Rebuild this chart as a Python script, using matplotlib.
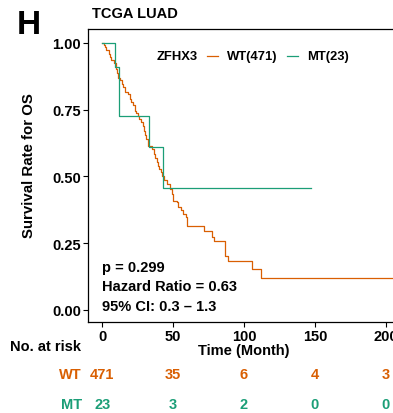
import matplotlib
matplotlib.use("Agg")
import matplotlib.pyplot as plt
from matplotlib.lines import Line2D
import matplotlib.transforms as mtransforms

plt.rcParams['font.family'] = ['Liberation Sans', 'DejaVu Sans']
plt.rcParams['font.weight'] = 'bold'

WT_COL = '#D95F02'
MT_COL = '#1B9E77'

# Kaplan-Meier steps
wt_t = [0, 1, 2, 3, 4.5, 5.3, 6, 8, 9.6, 10.3, 11, 12.7, 14, 15, 16.2, 18.5, 19.7,
        20.5, 21.4, 23.2, 24, 25, 26, 27.5, 29, 29.5, 30.2, 31, 32.6, 35, 36.6, 37.5,
        38.5, 39.5, 40.4, 41.2, 42, 43.7, 46, 47.9, 49, 49.7, 52.6, 53.7, 55.4, 57.3,
        59.2, 59.6, 72, 77.7, 79, 86.6, 88.9, 105.3, 112, 215]
wt_s = [1.0, 0.993, 0.985, 0.975, 0.96, 0.948, 0.935, 0.925, 0.904, 0.888, 0.87, 0.86,
        0.848, 0.835, 0.816, 0.81, 0.79, 0.778, 0.766, 0.747, 0.737, 0.728, 0.715, 0.704,
        0.688, 0.672, 0.656, 0.64, 0.613, 0.603, 0.584, 0.568, 0.553, 0.54, 0.528, 0.515,
        0.503, 0.485, 0.472, 0.453, 0.435, 0.41, 0.404, 0.385, 0.373, 0.36, 0.35, 0.316,
        0.295, 0.273, 0.257, 0.204, 0.183, 0.152, 0.12, 0.12]
mt_t = [0, 8.7, 11.8, 33, 42.7, 147]
mt_s = [1.0, 0.91, 0.728, 0.609, 0.456, 0.456]

risk_times = [0, 50, 100, 150, 200]
wt_risk = [471, 35, 6, 4, 3]
mt_risk = [23, 3, 2, 0, 0]

W, H = 393, 414
FS = 10.5
fig = plt.figure(figsize=(W / 100, H / 100), dpi=100)
ax = fig.add_axes([88 / W, 1 - 323 / H, 312 / W, 293 / H])

ax.step(wt_t, wt_s, where='post', color=WT_COL, lw=0.9)
ax.step(mt_t, mt_s, where='post', color=MT_COL, lw=0.9)

ax.set_xlim(-10, 210)
ax.set_ylim(-0.045, 1.0524)
ax.set_xticks(risk_times)
ax.set_yticks([0, 0.25, 0.5, 0.75, 1.0])
ax.set_yticklabels(['0.00', '0.25', '0.50', '0.75', '1.00'])
ax.tick_params(labelsize=FS, width=0.8, length=3.5, colors='black', pad=1.5)
for lab in ax.get_xticklabels() + ax.get_yticklabels():
    lab.set_fontweight('bold')
for sp in ax.spines.values():
    sp.set_linewidth(0.9)
ax.set_ylabel('Survival Rate for OS', fontsize=10.8, fontweight='bold')
ax.yaxis.set_label_coords(-0.168, 0.537)
ax.set_xlabel('Time (Month)', fontsize=FS, fontweight='bold')
ax.xaxis.set_label_coords(0.5, -0.072)

ax.text(0, 0.16, 'p = 0.299', fontsize=FS, fontweight='bold', va='center')
ax.text(0, 0.088, 'Hazard Ratio = 0.63', fontsize=FS, fontweight='bold', va='center')
ax.text(0, 0.015, '95% CI: 0.3 \u2013 1.3', fontsize=FS, fontweight='bold', va='center')

# legend
ly = 1 - 57 / H
fig.text(157 / W, ly, 'ZFHX3', fontsize=9.4, fontweight='bold', va='center')
fig.add_artist(Line2D([207 / W, 218 / W], [ly, ly], color=WT_COL, lw=0.9))
fig.text(227 / W, ly, 'WT(471)', fontsize=9.4, fontweight='bold', va='center')
fig.add_artist(Line2D([287 / W, 298 / W], [ly, ly], color=MT_COL, lw=0.9))
fig.text(307 / W, ly, 'MT(23)', fontsize=9.4, fontweight='bold', va='center')

fig.text(17 / W, 1 - 25 / H, 'H', fontsize=24, fontweight='bold', va='center')
fig.text(92 / W, 1 - 14 / H, 'TCGA LUAD', fontsize=FS, fontweight='bold', va='center')

# risk table
trans = mtransforms.blended_transform_factory(ax.transData, fig.transFigure)
fig.text(10 / W, 1 - 347 / H, 'No. at risk', fontsize=FS, fontweight='bold', va='center')
fig.text(82 / W, 1 - 375.5 / H, 'WT', fontsize=FS, fontweight='bold', va='center',
         ha='right', color=WT_COL)
fig.text(82 / W, 1 - 405.5 / H, 'MT', fontsize=FS, fontweight='bold', va='center',
         ha='right', color=MT_COL)
for t, a, b in zip(risk_times, wt_risk, mt_risk):
    fig.text(t, 1 - 375.5 / H, str(a), transform=trans, fontsize=FS, fontweight='bold',
             ha='center', va='center', color=WT_COL)
    fig.text(t, 1 - 405.5 / H, str(b), transform=trans, fontsize=FS, fontweight='bold',
             ha='center', va='center', color=MT_COL)

fig.savefig('out.png', dpi=100)
